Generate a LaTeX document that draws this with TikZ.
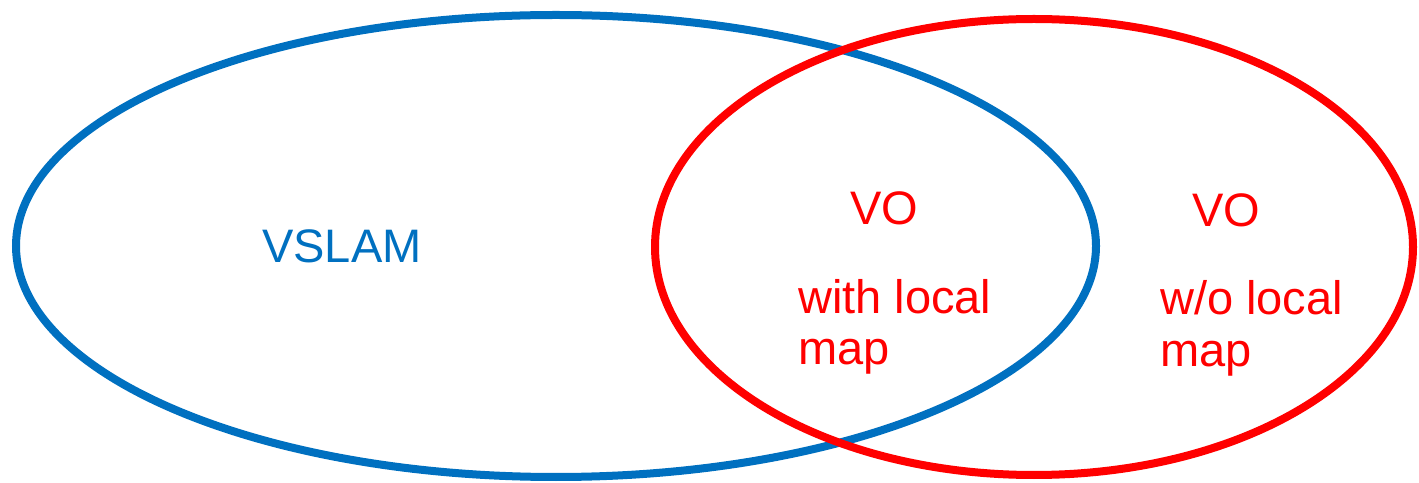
\documentclass[tikz,border=0pt]{standalone}
\usepackage{fontspec}
\setmainfont{Liberation Sans}
\usepackage{tikz}
\definecolor{slamblue}{RGB}{0,112,192}
\definecolor{vored}{RGB}{255,0,0}

\begin{document}
\begin{tikzpicture}[
	x=1pt, y=1pt,
	set/.style={line width=8pt},
	lbl/.style={
		inner sep=0pt, anchor=base west, align=left,
		font=\fontsize{47}{52}\selectfont
	}
	]
	\useasboundingbox (0,0) rectangle (1419,482);
	% the two sets, red one on top
	\draw[set, slamblue] (556,236) ellipse [x radius=540, y radius=231];
	\draw[set, vored] (1034,235) ellipse [x radius=379, y radius=228];
	% labels (base anchor sits on the last line)
	\node[lbl, text=slamblue] (slam) at (262,219) {VSLAM};
	\node[lbl, text=vored] (vo1) at (850,257) {VO};
	\node[lbl, text=vored] (map1) at (798,117) {with local\\map};
	\node[lbl, text=vored] (vo2) at (1192,255) {VO};
	\node[lbl, text=vored] (map2) at (1160,115) {w/o local\\map};
\end{tikzpicture}
\end{document}
